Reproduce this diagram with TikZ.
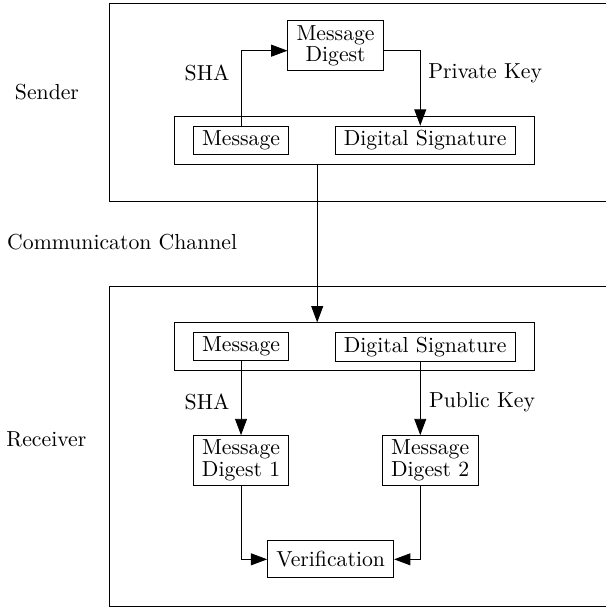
\documentclass[tikz,border=0pt]{standalone}
\usepackage{amsmath}
\usepackage{tikz}
\usetikzlibrary{arrows.meta,fit}

\begin{document}
\begin{tikzpicture}
	\useasboundingbox (0,0) rectangle (9.79,-9.87);

	% frames
	\begin{scope}[every node/.style={draw,anchor=north west,minimum width=8.6cm}]
		\node[minimum height=3.2cm] (sframe) at (1.76,-0.05) {};
		\node[minimum height=5.18cm] (rframe) at (1.76,-4.63) {};
	\end{scope}

	\node (snd) at (0.76,-1.49) {Sender};
	\node[anchor=west,inner sep=0pt] (chan) at (0.11,-3.92) {Communicaton Channel};
	\node (rcv) at (0.75,-7.11) {Receiver};

	\begin{scope}[every node/.style={draw,align=center,inner xsep=4pt,inner ysep=2pt,minimum width=1.52cm}]
		% sender
		\node (sdig) at (5.43,-0.74) {Message\\[-2pt]Digest};
		\node (smsg) at (3.90,-2.27) {Message};
		\node (ssig) at (6.88,-2.27) {Digital Signature};
		% receiver
		\node (rmsg) at (3.90,-5.61) {Message};
		\node (rsig) at (6.88,-5.61) {Digital Signature};
		\node (rdig1) at (3.90,-7.45) {Message\\[-2pt]Digest 1};
		\node (rdig2) at (6.96,-7.45) {Message\\[-2pt]Digest 2};
		\node[minimum height=0.6cm] (rver) at (5.35,-9.05) {Verification};
	\end{scope}

	\begin{scope}[every node/.style={draw,inner xsep=0.3cm,inner ysep=0.15cm}]
		\node[fit=(smsg)(ssig)] (spack) {};
		\node[fit=(rmsg)(rsig)] (rpack) {};
	\end{scope}

	\node (sha1) at (3.35,-1.18) {SHA};
	\node (privk) at (7.85,-1.18) {Private Key};
	\node (sha2) at (3.35,-6.50) {SHA};
	\node (pubk) at (7.80,-6.50) {Public Key};

	\coordinate (pk) at ([xshift=-0.08cm]rsig.south);

	\begin{scope}[>={Triangle[length=7.5pt,width=5.5pt]}]
		\draw[->] (smsg.north) |- ([yshift=-0.08cm]sdig.west);
		\draw[->] ([yshift=-0.08cm]sdig.east) -| ([xshift=-0.08cm]ssig.north);
		\draw[->] ([xshift=-0.6cm]spack.south) -- ([xshift=-0.6cm]rpack.north);

		\draw[->] (rmsg) -- (rdig1);
		\draw[->] (pk) -- (pk |- rdig2.north);
		\draw[->] (rdig1.south) |- (rver.west);
		\draw[->] (pk |- rdig2.south) |- (rver.east);
	\end{scope}
\end{tikzpicture}
\end{document}
